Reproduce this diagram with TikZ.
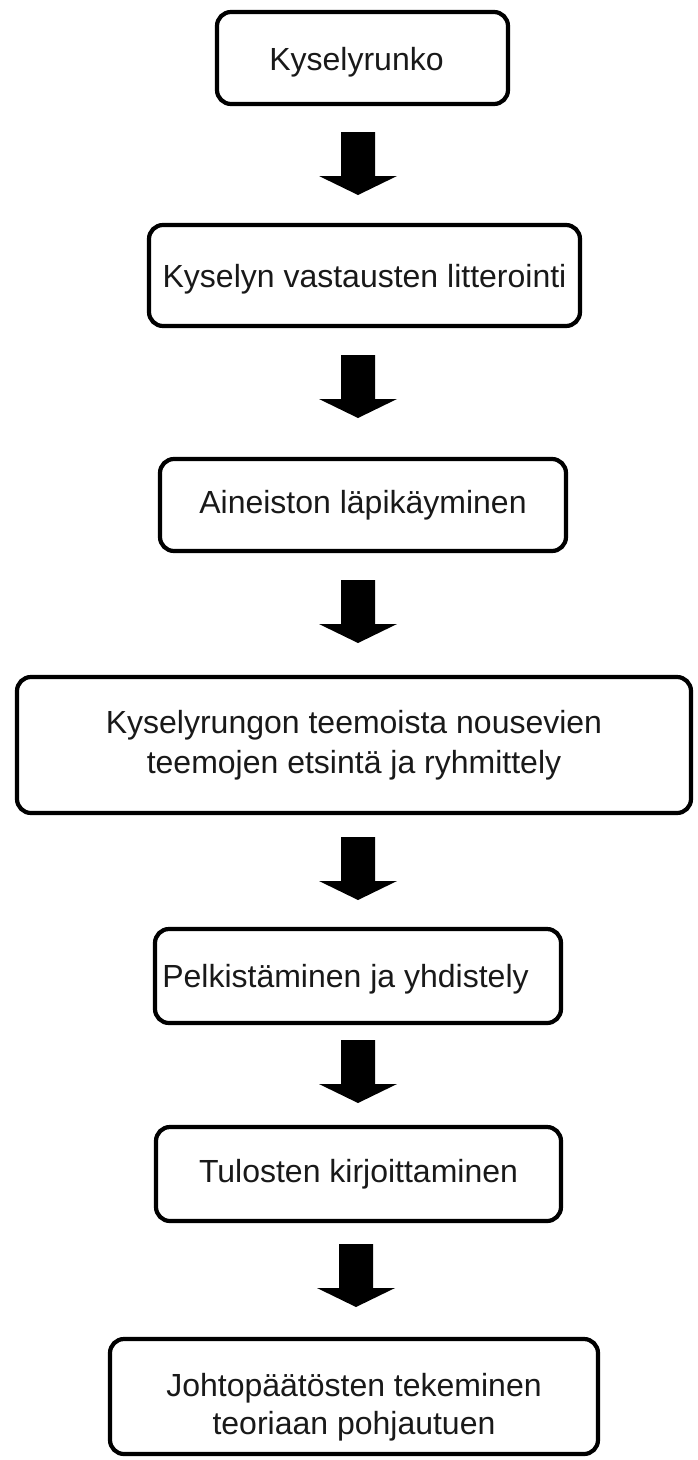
\documentclass[tikz,border=0pt]{standalone}
\usepackage{fontspec}
\setmainfont{Liberation Sans}
\begin{document}
\begin{tikzpicture}[x=1pt,y=-1pt,
  box/.style={draw=black, line width=4.2pt, rounded corners=14pt, fill=white,
    inner sep=0pt, align=center, font=\fontsize{32}{40}\selectfont, text=black!90},
  blockarrow/.style={fill=black}]
\useasboundingbox (0,0) rectangle (697,1460);
\fill[white] (0,0) rectangle (697,1460);

\node[box, minimum width=291, minimum height=92] (b1) at (362.5,58) {\rule{0pt}{32pt}Kyselyrunko\hspace*{12pt}};
\node[box, minimum width=431, minimum height=101] (b2) at (364.5,275.5) {\rule{0pt}{30pt}Kyselyn vastausten litterointi};
\node[box, minimum width=406, minimum height=92] (b3) at (363,505) {Aineiston läpikäyminen};
\node[box, minimum width=674, minimum height=136] (b4) at (354,745) {Kyselyrungon teemoista nousevien\\teemojen etsintä ja ryhmittely};
\node[box, minimum width=406, minimum height=94] (b5) at (358,976) {\rule{0pt}{30pt}Pelkistäminen ja yhdistely\hspace*{25pt}};
\node[box, minimum width=405, minimum height=94] (b6) at (358.5,1174) {Tulosten kirjoittaminen};
\node[box, minimum width=488, minimum height=115, font=\fontsize{32}{38}\selectfont] (b7) at (354,1396.5) {\rule{0pt}{44pt}Johtopäätösten tekeminen\\teoriaan pohjautuen};

\coordinate (a1) at (358,132);
\coordinate (a2) at (358,355);
\coordinate (a3) at (358,580);
\coordinate (a4) at (358,837);
\coordinate (a5) at (358,1040);
\coordinate (a6) at (356,1244);

\foreach \a in {a1,a2,a3,a4,a5,a6}{
  \fill[blockarrow] (\a) +(-17,0) -- +(17,0) -- +(17,44) -- +(39,44) -- +(0,63)
     -- +(-39,44) -- +(-17,44) -- cycle;
}
\end{tikzpicture}
\end{document}
